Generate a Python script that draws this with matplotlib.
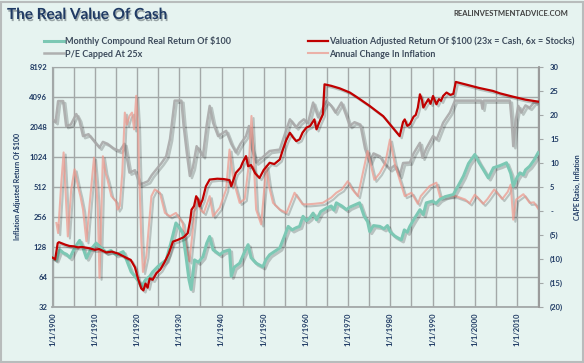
import matplotlib
matplotlib.use('Agg')
import matplotlib.pyplot as plt
import matplotlib.patheffects as pe
from matplotlib.ticker import FixedLocator, FixedFormatter, MultipleLocator, NullFormatter
from matplotlib.patches import Rectangle

plt.rcParams['font.family'] = ['Lato', 'DejaVu Sans']

# ---------- data ----------
red_years = [1900.0, 1900.6, 1901.2, 1901.5, 1903, 1904, 1905, 1906, 1907, 1908.8, 1910, 1911, 1912.7, 1914,
             1915.5, 1917.4, 1918.5, 1919.5, 1920.3, 1921, 1921.5, 1922, 1922.5, 1923, 1923.7, 1924.6,
             1925.5, 1926.5, 1927.5, 1928.5, 1929.5, 1931, 1932, 1932.6, 1932.9, 1933.5, 1934, 1934.5,
             1934.8, 1935.5, 1936.3, 1937.2, 1939, 1940.5, 1941.9, 1942.3, 1943.4, 1944.5, 1945, 1945.8,
             1946.3, 1947, 1948, 1949, 1950, 1951.4, 1952.5, 1953.8, 1954.5, 1955.3, 1956.2, 1957, 1957.7,
             1958.5, 1959.2, 1960.1, 1961, 1962, 1962.5, 1963.2, 1964, 1964.4, 1966, 1968, 1970.4, 1972,
             1975.1, 1976.5, 1978.3, 1980, 1982.2, 1983, 1983.4, 1984, 1984.6, 1985.5, 1986, 1986.5, 1987,
             1987.5, 1987.8, 1988.5, 1989, 1989.5, 1990.1, 1990.9, 1991.5, 1992, 1992.5, 1993.3, 1994.2,
             1994.9, 1995.5, 1998, 2001, 2004.3, 2006, 2009, 2012, 2015]
red_vals = [100, 96, 140, 143, 135, 131, 130, 127, 128, 124, 120, 122, 113, 115,
            110, 100, 95, 80, 60, 49, 47, 55, 50, 62, 60, 70,
            76, 90, 110, 145, 150, 160, 176, 240, 303, 330, 413, 380,
            327, 380, 520, 608, 620, 615, 600, 520, 710, 800, 900, 1045,
            828, 850, 700, 631, 760, 896, 870, 966, 1200, 1500, 1794, 1600, 1478,
            1540, 1800, 2016, 2100, 2440, 1940, 2300, 2740, 5490, 5300, 5000, 4540, 4100,
            3330, 3000, 2630, 2150, 1660, 2300, 2440, 2100, 2180, 2600, 2700, 3200, 4360,
            3800, 3210, 3600, 3900, 3500, 4190, 3460, 3900, 3750, 4200, 4540, 4300,
            4400, 5800, 5450, 5050, 4710, 4450, 4130, 3850, 3680]

green_years = [1900, 1900.8, 1901.7, 1902.5, 1903.3, 1904.1, 1905, 1905.7, 1906.4, 1907.2, 1908, 1909,
               1910.3, 1911.5, 1912.7, 1913.8, 1915.1, 1916.7, 1917.5, 1918.6, 1919.5, 1920.3, 1921, 1922,
               1923, 1923.7, 1925, 1926.9, 1928, 1929.2, 1930, 1930.8, 1931.6, 1932.3, 1932.8, 1933.6,
               1934.5, 1935.6, 1936.5, 1937.2, 1938, 1939, 1939.6, 1940.5, 1941.9, 1942.3, 1943, 1944.3,
               1945.3, 1946.3, 1947, 1948.2, 1949.8, 1950.5, 1951.4, 1952.5, 1953.8, 1954.8, 1955.8, 1956.7,
               1957.7, 1958.5, 1959.3, 1960.1, 1960.9, 1961.7, 1962.5, 1963.5, 1964.9, 1966, 1966.6, 1967.2,
               1968.5, 1969.6, 1970.3, 1971, 1972.7, 1973.8, 1974.6, 1975.1, 1976, 1977.5, 1978.5, 1979.3,
               1979.9, 1981, 1982.6, 1983.3, 1984, 1984.6, 1985.5, 1987, 1987.8, 1988.5, 1990, 1990.8,
               1991.7, 1993, 1994.9, 1996, 1997.3, 1998.5, 2000, 2001, 2002, 2003.2, 2004.4, 2006, 2007.5,
               2008.5, 2009.1, 2010, 2010.7, 2011.5, 2012, 2013, 2014, 2015]
green_vals = [100, 95, 120, 112, 108, 100, 120, 135, 149, 125, 99, 120,
              140, 125, 113, 118, 107, 115, 95, 72, 65, 58, 51, 60,
              65, 72, 82, 95, 140, 223, 200, 176, 102, 60, 48, 95,
              90, 102, 140, 163, 120, 112, 107, 115, 120, 65, 80, 88,
              110, 135, 100, 88, 81, 95, 107, 115, 125, 160, 206, 190,
              200, 206, 260, 235, 250, 280, 240, 290, 315, 330, 300, 355,
              330, 303, 320, 330, 355, 260, 230, 183, 210, 206, 195, 210,
              183, 165, 151, 190, 180, 206, 240, 303, 270, 355, 370, 350,
              384, 410, 430, 520, 658, 880, 1085, 900, 767, 631, 798, 840, 896,
              700, 520, 640, 710, 680, 760, 828, 950, 1130]

pe_years = [1900, 1900.7, 1901.3, 1902.5, 1903.2, 1904.3, 1905.6, 1906.3, 1907.2, 1908.5, 1909.5, 1911.1,
            1911.9, 1913, 1914.5, 1915.9, 1917, 1918.2, 1919.5, 1920.6, 1921.5, 1922.6, 1923.5, 1924.6,
            1925.8, 1926.9, 1927.8, 1928.9, 1930.5, 1931, 1931.8, 1932.5, 1933.2, 1934.1, 1935.6, 1936.5,
            1937.2, 1938, 1939.2, 1941.1, 1942.3, 1943.4, 1944.5, 1945.8, 1946.5, 1947.2, 1948.2, 1949.5,
            1951.4, 1953.8, 1955, 1956.2, 1957.7, 1958.5, 1959.5, 1960.5, 1961.7, 1962.9, 1964, 1964.9,
            1966, 1967, 1968.4, 1969.5, 1970.4, 1971.5, 1972.9, 1974, 1975.1, 1976, 1977.5, 1978.5,
            1979.9, 1981, 1982.2, 1983, 1984.6, 1985.5, 1987, 1987.6, 1988.5, 1990.1, 1991, 1992.5,
            1994.1, 1995.3, 2001.5, 2001.8, 2002.1, 2003.2, 2003.6, 2008.3, 2008.7, 2009.1, 2009.7, 2010.3,
            2011, 2012, 2013, 2014, 2015]
pe_vals = [19.1, 18.5, 22.9, 22.9, 17.7, 18, 20.2, 19, 15.6, 16, 14.9, 13.2,
           14.4, 14, 13, 12.5, 14.0, 8.0, 8.5, 5.5, 5.8, 6.2, 7.5, 8.7,
           10, 11.4, 15, 23.0, 23.0, 18, 12, 7.3, 9, 13.5, 11.4, 18,
           21.9, 18.4, 15.6, 16.7, 14, 12.2, 14, 15.6, 17.7, 13, 10.1, 11,
           12.5, 12.8, 16, 19.1, 17.4, 18.4, 19.1, 18.4, 22.6, 19.5, 21.5, 22.9,
           21.9, 20.5, 22.6, 20, 17.7, 18.5, 18.0, 13, 10.1, 12, 11.4, 10,
           8.7, 9.5, 7.3, 10, 10.1, 12, 14.2, 11.1, 13, 15.6, 15, 18.4,
           20.5, 23, 23, 21.3, 23, 23, 23, 23, 19, 13.5, 19, 21.9,
           20.5, 22, 21.5, 22.6, 22.5]

infl_years = [1900.9, 1901.3, 1902, 1902.6, 1903.2, 1903.6, 1904.4, 1905.2, 1906, 1906.6, 1907.2, 1908,
              1908.8, 1909.8, 1910.3, 1910.7, 1911.1, 1911.9, 1912.5, 1913, 1913.9, 1915, 1915.4, 1915.9,
              1916.5, 1917.1, 1917.6, 1918.2, 1918.8, 1919.3, 1919.8, 1920.2, 1920.6, 1921, 1921.4, 1922.2,
              1923.4, 1924.2, 1925.4, 1926.6, 1927.8, 1929.2, 1930.8, 1931.6, 1932.4, 1933.2, 1934, 1935,
              1935.8, 1937.2, 1938, 1939.6, 1941.1, 1941.9, 1942.8, 1944.3, 1945.5, 1946.5, 1947.1, 1948.2,
              1949.4, 1950.6, 1951.3, 1952.2, 1953.8, 1955.4, 1957.3, 1959.2, 1960.5, 1962, 1964, 1966,
              1967.2, 1968.5, 1969.9, 1971, 1972.3, 1973.5, 1974.6, 1976.2, 1977.5, 1978.8, 1979.9, 1981,
              1982.2, 1983.4, 1985, 1986.5, 1987.2, 1989.3, 1990.9, 1991.8, 1993.7, 1995.5, 1997.7, 1998.8,
              2000, 2002, 2003, 2004.6, 2006.5, 2007.8, 2008.5, 2009.1, 2009.8, 2011.5, 2013, 2014, 2015]
infl_vals = [-2.5, -4.6, 5.2, 12.2, 1.7, -5.3, 4.5, 8.7, 5.2, 3.0, 0.3, -6.3,
             1.7, 11.1, 6.0, 0.3, -13.9, 11.4, 8.0, 6.5, 3.1, 2.0, 0.3, 1.0,
             8, 20.5, 18.0, 19.8, 20.5, 17, 24.0, 18.0, 5.0, -6.0, -12.7, -9.4,
             3.1, 4.5, 3.8, -0.4, -1.1, -0.4, -2.5, -7.4, -10.5, -4.0, 3.1, 0.3,
             -0.4, 3.1, -1.1, 0.7, 4.5, 12.8, 6.5, 1.7, 2.5, 10, 19.8, 0.3,
             -2.8, 9.4, 5.0, 1.7, 0.3, -0.4, 3.8, 1.4, 1.4, 1.5, 1.7, 2.8,
             3.8, 4.5, 6.2, 4.5, 3.1, 8, 12.5, 6.5, 7.9, 10, 14.9, 10,
             6.5, 3.1, 3.8, 1.5, 3.1, 5.2, 5.9, 2.8, 3.1, 3.1, 2.4, 1.6,
             3.4, 1.5, 2.5, 4.5, 2.5, 4.0, 5.5, -1.8, 2.4, 3.5, 1.7, 1.8, 0.5]

left_ticks = [32, 64, 128, 256, 512, 1024, 2048, 4096, 8192]
right_ticks = [-20, -15, -10, -5, 0, 5, 10, 15, 20, 25, 30]
right_labels = ['(20)', '(15)', '(10)', '(5)', '-', '5', '10', '15', '20', '25', '30']
decades = list(range(1900, 2011, 10))
decade_labels = ['1/1/' + str(d) for d in decades]

# ---------- figure ----------
bg = '#E6F3F0'
navy = '#1F3A64'
gridc = '#A3A8A8'

fig = plt.figure(figsize=(5.84, 3.63), dpi=100, facecolor=bg)
pos = [52 / 584, 1 - 307 / 363, (539 - 52) / 584, (307 - 67) / 363]

ax = fig.add_axes(pos, facecolor=bg)
ax.set_yscale('log', base=2)
ax.set_ylim(32, 8192)
ax.set_xlim(1899.85, 2015.2)
ax.yaxis.set_major_locator(FixedLocator(left_ticks))
ax.yaxis.set_major_formatter(FixedFormatter([str(t) for t in left_ticks]))
ax.yaxis.set_minor_formatter(NullFormatter())
ax.yaxis.set_minor_locator(FixedLocator([]))
ax.xaxis.set_major_locator(FixedLocator(decades))
ax.xaxis.set_major_formatter(FixedFormatter(decade_labels))
ax.xaxis.set_minor_locator(MultipleLocator(5))
ax.grid(True, which='both', color=gridc, lw=1.0)
ax.tick_params(axis='both', which='both', length=0, labelsize=5.5, labelcolor=navy)
ax.tick_params(axis='x', pad=4)
for lab in ax.get_xticklabels():
    lab.set_rotation(90)
    lab.set_fontweight('bold')
for lab in ax.get_yticklabels():
    lab.set_fontweight('bold')
for s in ax.spines.values():
    s.set_color(gridc)
ax.spines['bottom'].set_linewidth(1.3)
ax.set_ylabel('Inflation Adjusted Return Of $100', fontsize=5, fontweight='bold', color=navy, labelpad=6)

shadow = [pe.SimpleLineShadow(offset=(1.5, -1.5), shadow_color='k', alpha=0.2), pe.Normal()]

# right axis: P/E and inflation
ax2 = ax.twinx()
ax2.set_ylim(-20, 30)
ax2.yaxis.set_major_locator(FixedLocator(right_ticks))
ax2.yaxis.set_major_formatter(FixedFormatter(right_labels))
ax2.tick_params(axis='y', length=3, color=gridc, labelsize=5.5, labelcolor=navy, pad=5)
for lab in ax2.get_yticklabels():
    lab.set_fontweight('bold')
ax2.spines['right'].set_color('#9A9A9A')
ax2.spines['right'].set_linewidth(1.3)
for k in ['left', 'top', 'bottom']:
    ax2.spines[k].set_visible(False)
ax2.set_ylabel('CAPE Ratio, Inflation', fontsize=5, fontweight='bold', color=navy, labelpad=8)
l_pe, = ax2.plot(pe_years, pe_vals, color='#A9A9A9', lw=1.8, alpha=0.9, path_effects=shadow,
                 label='P/E Capped At 25x')
l_inf, = ax2.plot(infl_years, infl_vals, color='#EE968A', lw=1.5, alpha=0.7, path_effects=shadow,
                  label='Annual Change In Inflation')

# overlay axis for the two log series so they sit on top
ax3 = fig.add_axes(pos, sharex=ax)
ax3.set_yscale('log', base=2)
ax3.set_ylim(32, 8192)
ax3.patch.set_visible(False)
ax3.axis('off')
l_gr, = ax3.plot(green_years, green_vals, color='#7CC8B4', lw=2.2, path_effects=shadow,
                 label='Monthly Compound Real Return Of $100')
l_red, = ax3.plot(red_years, red_vals, color='#C00000', lw=1.6, path_effects=shadow,
                  label='Valuation Adjusted Return Of $100 (23x = Cash, 6x = Stocks)')

# legends
leg_kw = dict(loc='upper left', frameon=False, fontsize=6.5, handlelength=2.2, handletextpad=0.15,
              labelspacing=0.4, borderpad=0, borderaxespad=0)
lg1 = fig.legend(handles=[l_gr, l_pe], bbox_to_anchor=(44 / 584, 1 - 36 / 363), **leg_kw)
lg2 = fig.legend(handles=[l_red, l_inf], bbox_to_anchor=(308 / 584, 1 - 36 / 363), **leg_kw)
for lg in (lg1, lg2):
    for t in lg.get_texts():
        t.set_color('#3D4B5C')
        t.set_fontweight('bold')
    for h in lg.get_lines():
        h.set_path_effects([])

# title and source
fig.text(7 / 584, 1 - 19 / 363, 'The Real Value Of Cash', fontsize=11, fontweight='bold', color=navy,
         path_effects=[pe.SimplePatchShadow(offset=(0.8, -1.5), alpha=0.35), pe.Normal()])
fig.text(568 / 584, 1 - 13 / 363, 'REALINVESTMENTADVICE.COM', fontsize=5.5, fontweight='bold',
         color='#404040', ha='right', va='center')

fig.patches.append(Rectangle((0.002, 0.004), 0.996, 0.99, transform=fig.transFigure, fill=False,
                             edgecolor='#B8BCBC', lw=1.5))

fig.savefig('out.png', dpi=100, facecolor=bg)
